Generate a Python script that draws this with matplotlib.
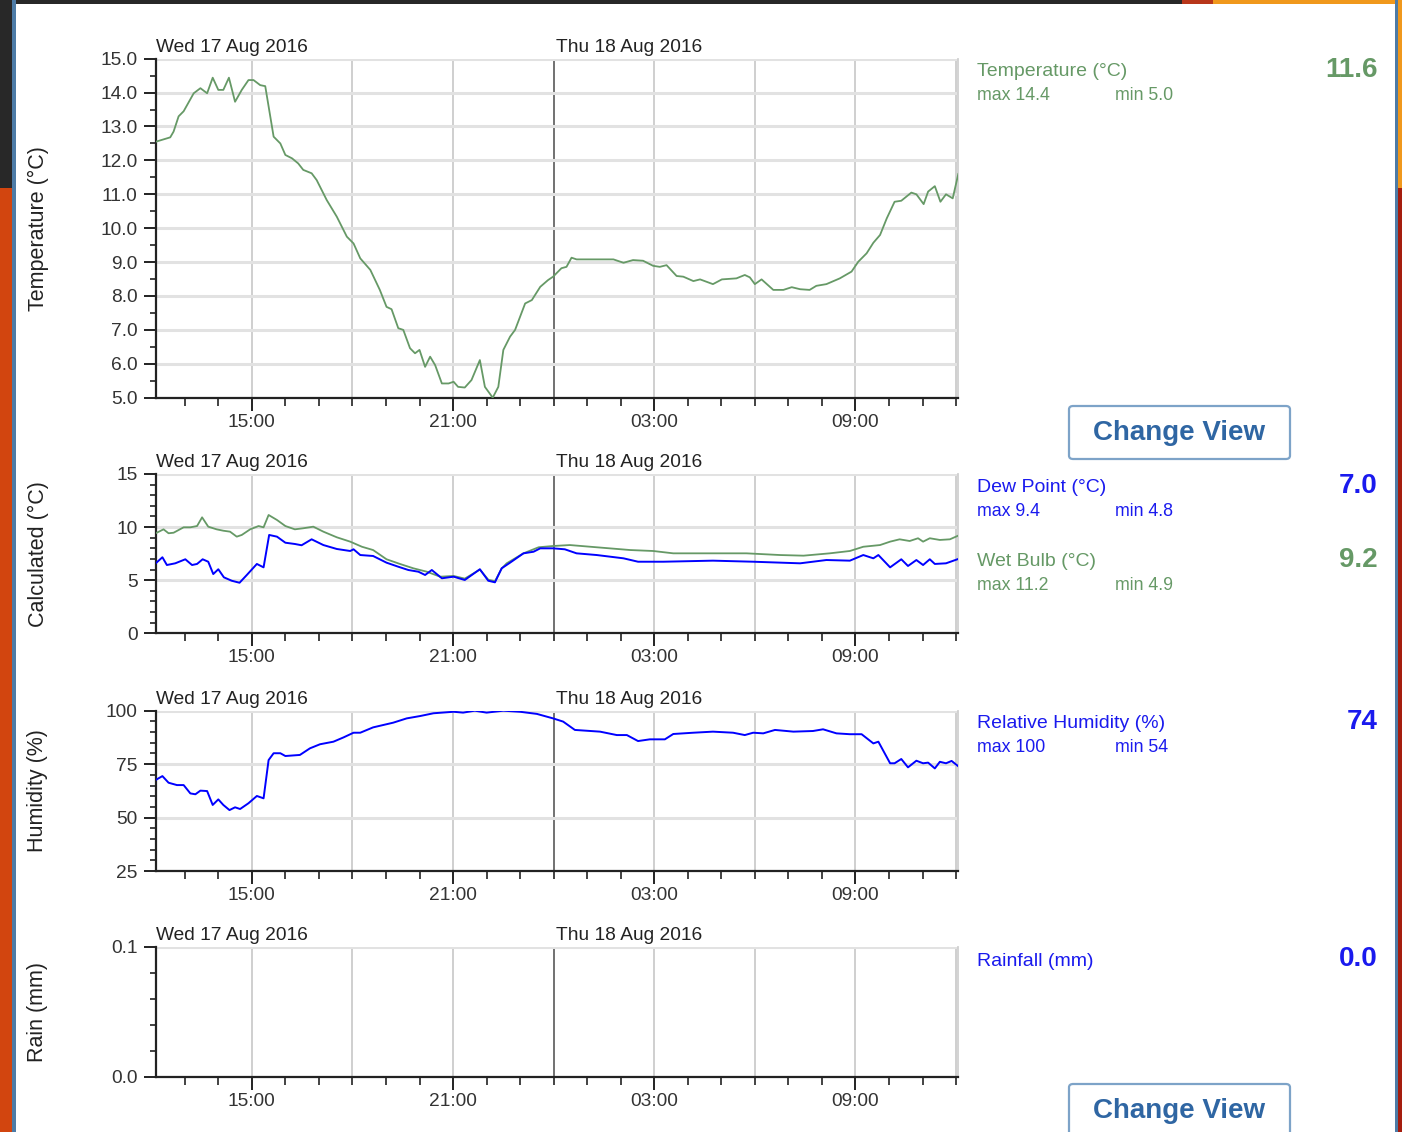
# Weather station 24h view: temperature, dew point / wet bulb, humidity, rain.

import pandas as pd
import matplotlib.pyplot as plt
import matplotlib.dates as mdates
from matplotlib.ticker import MultipleLocator, FormatStrFormatter
from matplotlib.patches import Rectangle, FancyBboxPatch


# Readings, times as "day HH:MM" in Aug 2016
temp_times = ['17 12:08', '17 12:28', '17 12:34', '17 12:40', '17 12:49', '17 12:58', '17 13:16',
              '17 13:28', '17 13:40', '17 13:50', '17 14:00', '17 14:09', '17 14:19', '17 14:30',
              '17 14:42', '17 14:54', '17 15:03', '17 15:15', '17 15:24', '17 15:39', '17 15:51',
              '17 16:00', '17 16:12', '17 16:23', '17 16:32', '17 16:47', '17 16:56', '17 17:14',
              '17 17:32', '17 17:50', '17 18:02', '17 18:14', '17 18:32', '17 18:49', '17 19:01',
              '17 19:10', '17 19:22', '17 19:31', '17 19:43', '17 19:52', '17 20:00', '17 20:10',
              '17 20:19', '17 20:28', '17 20:40', '17 20:52', '17 21:01', '17 21:09', '17 21:21',
              '17 21:33', '17 21:48', '17 21:57', '17 22:11', '17 22:21', '17 22:30', '17 22:42',
              '17 22:51', '17 23:09', '17 23:21', '17 23:36', '17 23:50', '17 23:59', '18 00:14',
              '18 00:23', '18 00:32', '18 00:41', '18 01:47', '18 02:05', '18 02:22', '18 02:40',
              '18 02:58', '18 03:10', '18 03:22', '18 03:40', '18 03:52', '18 04:10', '18 04:22',
              '18 04:45', '18 05:01', '18 05:27', '18 05:42', '18 05:51', '18 06:00', '18 06:12',
              '18 06:33', '18 06:51', '18 07:06', '18 07:21', '18 07:38', '18 07:50', '18 08:08',
              '18 08:32', '18 08:53', '18 09:05', '18 09:20', '18 09:32', '18 09:44', '18 09:56',
              '18 10:10', '18 10:22', '18 10:40', '18 10:49', '18 11:02', '18 11:10', '18 11:22',
              '18 11:32', '18 11:42', '18 11:54', '18 12:04']
temp_values = [12.55, 12.65, 12.68, 12.85, 13.3, 13.45, 13.98,
               14.13, 13.98, 14.44, 14.08, 14.08, 14.44, 13.73,
               14.08, 14.37, 14.37, 14.22, 14.19, 12.7, 12.5,
               12.16, 12.06, 11.91, 11.72, 11.62, 11.42, 10.83,
               10.34, 9.75, 9.55, 9.11, 8.77, 8.18, 7.68,
               7.61, 7.05, 7.0, 6.46, 6.31, 6.41, 5.91,
               6.21, 5.96, 5.42, 5.42, 5.47, 5.32, 5.3,
               5.52, 6.11, 5.32, 5.0, 5.32, 6.41, 6.8,
               7.0, 7.78, 7.88, 8.27, 8.47, 8.57, 8.82,
               8.86, 9.13, 9.08, 9.08, 8.98, 9.06, 9.04,
               8.89, 8.86, 8.91, 8.59, 8.57, 8.44, 8.49,
               8.35, 8.49, 8.52, 8.62, 8.55, 8.35, 8.49,
               8.18, 8.18, 8.26, 8.2, 8.18, 8.3, 8.35,
               8.52, 8.72, 9.01, 9.26, 9.57, 9.8, 10.29,
               10.78, 10.81, 11.05, 11.0, 10.71, 11.08, 11.24,
               10.78, 11.0, 10.88, 11.6]

wet_times = ['17 12:08', '17 12:22', '17 12:31', '17 12:40', '17 12:58', '17 13:10', '17 13:22',
             '17 13:31', '17 13:42', '17 13:57', '17 14:09', '17 14:21', '17 14:33', '17 14:42',
             '17 14:57', '17 15:12', '17 15:21', '17 15:30', '17 15:45', '17 16:00', '17 16:17',
             '17 16:32', '17 16:50', '17 17:08', '17 17:32', '17 17:56', '17 18:17', '17 18:37',
             '17 19:01', '17 19:25', '17 19:49', '17 20:13', '17 20:37', '17 21:01', '17 21:21',
             '17 21:48', '17 22:03', '17 22:15', '17 22:27', '17 22:36', '17 23:06', '17 23:33',
             '17 23:59', '18 00:29', '18 01:17', '18 02:17', '18 02:58', '18 03:34', '18 04:45',
             '18 05:45', '18 06:45', '18 07:27', '18 08:14', '18 08:50', '18 09:14', '18 09:44',
             '18 10:02', '18 10:19', '18 10:37', '18 10:52', '18 11:01', '18 11:13', '18 11:31',
             '18 11:49', '18 12:04']
wet_values = [9.42, 9.79, 9.42, 9.47, 9.98, 9.98, 10.1,
              10.92, 10.04, 9.79, 9.66, 9.57, 9.1, 9.26,
              9.79, 10.1, 9.98, 11.14, 10.67, 10.1, 9.79,
              9.89, 10.04, 9.57, 9.04, 8.63, 8.15, 7.84,
              6.97, 6.53, 6.12, 5.8, 5.33, 5.4, 5.15,
              6.0, 5.05, 4.9, 6.1, 6.59, 7.53, 8.1,
              8.22, 8.31, 8.1, 7.84, 7.75, 7.53, 7.53,
              7.53, 7.37, 7.31, 7.53, 7.75, 8.15, 8.31,
              8.63, 8.85, 8.69, 8.95, 8.63, 8.95, 8.79,
              8.85, 9.2]

dew_times = ['17 12:08', '17 12:20', '17 12:28', '17 12:43', '17 13:01', '17 13:13', '17 13:22',
             '17 13:32', '17 13:42', '17 13:51', '17 14:00', '17 14:10', '17 14:24', '17 14:38',
             '17 14:51', '17 15:09', '17 15:21', '17 15:31', '17 15:45', '17 16:00', '17 16:17',
             '17 16:29', '17 16:47', '17 17:08', '17 17:32', '17 17:56', '17 18:02', '17 18:14',
             '17 18:37', '17 19:01', '17 19:22', '17 19:40', '17 19:58', '17 20:10', '17 20:22',
             '17 20:40', '17 21:01', '17 21:21', '17 21:48', '17 22:03', '17 22:15', '17 22:27',
             '17 22:42', '17 23:06', '17 23:24', '17 23:36', '17 23:59', '18 00:20', '18 00:41',
             '18 01:17', '18 02:05', '18 02:31', '18 03:16', '18 04:45', '18 05:57', '18 07:21',
             '18 08:08', '18 08:50', '18 09:14', '18 09:32', '18 09:41', '18 10:02', '18 10:22',
             '18 10:34', '18 10:49', '18 11:01', '18 11:13', '18 11:22', '18 11:42', '18 12:04']
dew_values = [6.59, 7.16, 6.43, 6.59, 6.97, 6.43, 6.53,
              6.97, 6.74, 5.58, 6.03, 5.27, 4.95, 4.76,
              5.49, 6.53, 6.21, 9.26, 9.1, 8.53, 8.41,
              8.29, 8.85, 8.31, 7.94, 7.75, 7.91, 7.37,
              7.28, 6.65, 6.27, 5.96, 5.8, 5.49, 5.96,
              5.18, 5.33, 5.02, 6.03, 4.95, 4.8, 6.12,
              6.65, 7.53, 7.68, 8.0, 8.0, 7.91, 7.53,
              7.37, 7.06, 6.74, 6.74, 6.84, 6.74, 6.59,
              6.9, 6.84, 7.37, 7.06, 7.37, 6.21, 6.97,
              6.34, 6.9, 6.43, 6.97, 6.53, 6.59, 7.0]

hum_times = ['17 12:08', '17 12:20', '17 12:31', '17 12:46', '17 12:58', '17 13:10', '17 13:19',
             '17 13:28', '17 13:40', '17 13:50', '17 14:00', '17 14:09', '17 14:20', '17 14:30',
             '17 14:39', '17 14:54', '17 15:09', '17 15:21', '17 15:30', '17 15:39', '17 15:51',
             '17 16:00', '17 16:26', '17 16:44', '17 17:02', '17 17:26', '17 17:44', '17 18:02',
             '17 18:14', '17 18:37', '17 19:13', '17 19:37', '17 20:01', '17 20:25', '17 21:01',
             '17 21:18', '17 21:39', '17 22:00', '17 22:30', '17 23:00', '17 23:30', '17 23:59',
             '18 00:17', '18 00:38', '18 01:23', '18 01:53', '18 02:11', '18 02:31', '18 02:52',
             '18 03:19', '18 03:34', '18 04:10', '18 04:45', '18 05:21', '18 05:42', '18 05:57',
             '18 06:15', '18 06:36', '18 07:09', '18 07:44', '18 08:02', '18 08:26', '18 08:50',
             '18 09:11', '18 09:32', '18 09:41', '18 10:02', '18 10:10', '18 10:22', '18 10:34',
             '18 10:49', '18 11:01', '18 11:10', '18 11:22', '18 11:31', '18 11:42', '18 11:52',
             '18 12:04']
hum_values = [67.6, 69.4, 66.3, 65.2, 65.2, 61.3, 60.9,
              62.6, 62.4, 55.9, 58.5, 55.9, 53.5, 54.8,
              54.0, 56.7, 60.1, 59.0, 76.9, 80.1, 80.1,
              78.8, 79.3, 82.4, 84.3, 85.5, 87.5, 89.7,
              89.7, 92.2, 94.4, 96.4, 97.5, 98.8, 99.5,
              99.1, 100.0, 99.1, 100.0, 99.5, 98.5, 96.4,
              94.9, 91.0, 90.2, 88.6, 88.6, 85.8, 86.6,
              86.6, 89.1, 89.7, 90.2, 89.7, 88.6, 89.7,
              89.4, 91.0, 90.2, 90.5, 91.3, 89.4, 89.0,
              89.0, 84.7, 85.5, 75.4, 75.4, 77.4, 73.5,
              76.6, 75.4, 75.7, 73.0, 76.1, 75.4, 76.5,
              74.0]

rain_times = ['17 12:08', '18 12:04']
rain_values = [0.0, 0.0]

# side panel text: label, max, min, current
side_labels = ['Temperature (°C)', 'Dew Point (°C)', 'Wet Bulb (°C)',
               'Relative Humidity (%)', 'Rainfall (mm)']
side_max = ['max 14.4', 'max 9.4', 'max 11.2', 'max 100', None]
side_min = ['min 5.0', 'min 4.8', 'min 4.9', 'min 54', None]
side_now = ['11.6', '7.0', '9.2', '74', '0.0']

y_titles = ['Temperature (°C)', 'Calculated (°C)', 'Humidity (%)', 'Rain (mm)']
day_labels = ['Wed 17 Aug 2016', 'Thu 18 Aug 2016']


def to_dt(times):
    return pd.to_datetime(['2016-08-' + t for t in times], format='%Y-%m-%d %H:%M')


GREEN = '#669966'
BLUE = '#0000ff'
TEXT_BLUE = '#1a1aee'

plt.rcParams['font.family'] = ['Liberation Sans', 'DejaVu Sans']

W, H = 1402, 1132
fig = plt.figure(figsize=(W / 100, H / 100), dpi=100, facecolor='white')


def px_rect(x, y, w, h):
    return [x / W, 1 - (y + h) / H, w / W, h / H]


# window chrome round the page
chrome = [(0, 0, 1182, 4, '#282828'), (1182, 0, 31, 4, '#b8361a'), (1213, 0, 189, 4, '#f0981c'),
          (0, 0, 12, 188, '#282828'), (0, 188, 12, 944, '#d2450f'), (12, 0, 3.5, H, '#4d7ba6'),
          (1395, 0, 2.5, H, '#4d7ba6'), (1397.5, 0, 4.5, 188, '#f0981c'),
          (1397.5, 188, 4.5, H - 188, '#a51d0e')]
for x, y, w, h, c in chrome:
    r = px_rect(x, y, w, h)
    fig.add_artist(Rectangle((r[0], r[1]), r[2], r[3], transform=fig.transFigure,
                             facecolor=c, edgecolor='none', zorder=0))

t0 = pd.Timestamp('2016-08-17 12:08')
t1 = pd.Timestamp('2016-08-18 12:04')
midnight = pd.Timestamp('2016-08-18 00:00')

panels = [
    dict(rect=(155.7, 58.7, 802.6, 339), ylim=(5, 15), major=1, minor=0.5, fmt='%.1f'),
    dict(rect=(155.7, 474, 802.6, 159.3), ylim=(0, 15), major=5, minor=1, fmt='%d'),
    dict(rect=(155.7, 710.7, 802.6, 160.3), ylim=(25, 100), major=25, minor=5, fmt='%d'),
    dict(rect=(155.7, 946.7, 802.6, 130), ylim=(0, 0.1), major=0.1, minor=0.02, fmt='%.1f'),
]

axes = []
for p, title in zip(panels, y_titles):
    ax = fig.add_axes(px_rect(*p['rect']))
    ax.set_facecolor('white')
    ax.set_xlim(t0, t1)
    ax.set_ylim(p['ylim'])
    ax.yaxis.set_major_locator(MultipleLocator(p['major']))
    ax.yaxis.set_minor_locator(MultipleLocator(p['minor']))
    ax.yaxis.set_major_formatter(FormatStrFormatter(p['fmt']))
    ax.xaxis.set_major_locator(mdates.HourLocator(byhour=[3, 9, 15, 21]))
    ax.xaxis.set_minor_locator(mdates.HourLocator())
    ax.xaxis.set_major_formatter(mdates.DateFormatter('%H:%M'))

    ax.grid(axis='y', which='major', color='#e2e2e2', lw=2.2)
    ax.grid(axis='x', which='both', visible=False)
    for t in pd.date_range('2016-08-17 15:00', t1, freq='3h'):
        col = '#666666' if t == midnight else '#cccccc'
        ax.axvline(t, color=col, lw=1.3, zorder=1)

    ax.spines['top'].set_visible(False)
    ax.spines['right'].set_color('#d0d0d0')
    ax.spines['right'].set_linewidth(1.3)
    for s in ['left', 'bottom']:
        ax.spines[s].set_color('#222222')
        ax.spines[s].set_linewidth(1.6)

    ax.tick_params(axis='y', which='major', length=8.5, width=1.4, pad=4.5,
                   labelsize=13.8, labelcolor='#333333', color='#222222')
    ax.tick_params(axis='y', which='minor', length=4.3, width=1.2, color='#222222')
    ax.tick_params(axis='x', which='major', length=9, width=1.4, pad=2.5,
                   labelsize=13.8, labelcolor='#333333', color='#222222')
    ax.tick_params(axis='x', which='minor', length=5.5, width=1.2, color='#222222')

    for lab, t, dx in [(day_labels[0], t0, 0), (day_labels[1], midnight, 1.5)]:
        ax.annotate(lab, xy=(mdates.date2num(t), 1), xycoords=('data', 'axes fraction'),
                    xytext=(dx, 2), textcoords='offset points', ha='left', va='bottom',
                    fontsize=13.8, color='#222222', annotation_clip=False)

    x, y, w, h = p['rect']
    fig.text(38 / W, 1 - (y + h / 2) / H, title, rotation=90, ha='center', va='center',
             fontsize=15.5, color='#222222')
    axes.append(ax)

ax1, ax2, ax3, ax4 = axes
ax1.plot(to_dt(temp_times), temp_values, color=GREEN, lw=1.3, zorder=3)
ax2.plot(to_dt(wet_times), wet_values, color=GREEN, lw=1.3, zorder=3)
ax2.plot(to_dt(dew_times), dew_values, color=BLUE, lw=1.4, zorder=4)
ax3.plot(to_dt(hum_times), hum_values, color=BLUE, lw=1.4, zorder=3)
# zero rain sits under the x axis line
ax4.plot(to_dt(rain_times), rain_values, color=BLUE, lw=1.2, zorder=2)

# side panel
side_colours = [GREEN, TEXT_BLUE, GREEN, TEXT_BLUE, TEXT_BLUE]
side_y = [72, 488, 562, 724, 961]
for lab, mx, mn, now, c, y in zip(side_labels, side_max, side_min, side_now,
                                   side_colours, side_y):
    fig.text(977 / W, 1 - y / H, lab, ha='left', va='center', fontsize=14, color=c)
    if mx is not None:
        fig.text(977 / W, 1 - (y + 24) / H, mx, ha='left', va='center', fontsize=12.8, color=c)
        fig.text(1115 / W, 1 - (y + 24) / H, mn, ha='left', va='center', fontsize=12.8, color=c)
    fig.text(1378 / W, 1 - (y - 2) / H, now, ha='right', va='center', fontsize=20,
             fontweight='bold', color=c)

# Change View buttons
for top in [406, 1084]:
    r = px_rect(1069, top, 221, 53)
    fig.add_artist(FancyBboxPatch((r[0], r[1]), r[2], r[3],
                                  boxstyle='round,pad=0,rounding_size=0.003',
                                  transform=fig.transFigure, facecolor='white',
                                  edgecolor='#7da3c8', lw=1.6, zorder=2))
    fig.text(1179.5 / W, 1 - (top + 27) / H, 'Change View', ha='center', va='center',
             fontsize=20, fontweight='bold', color='#2f66a3', zorder=3)

fig.savefig('out.png', dpi=100, facecolor='white')
